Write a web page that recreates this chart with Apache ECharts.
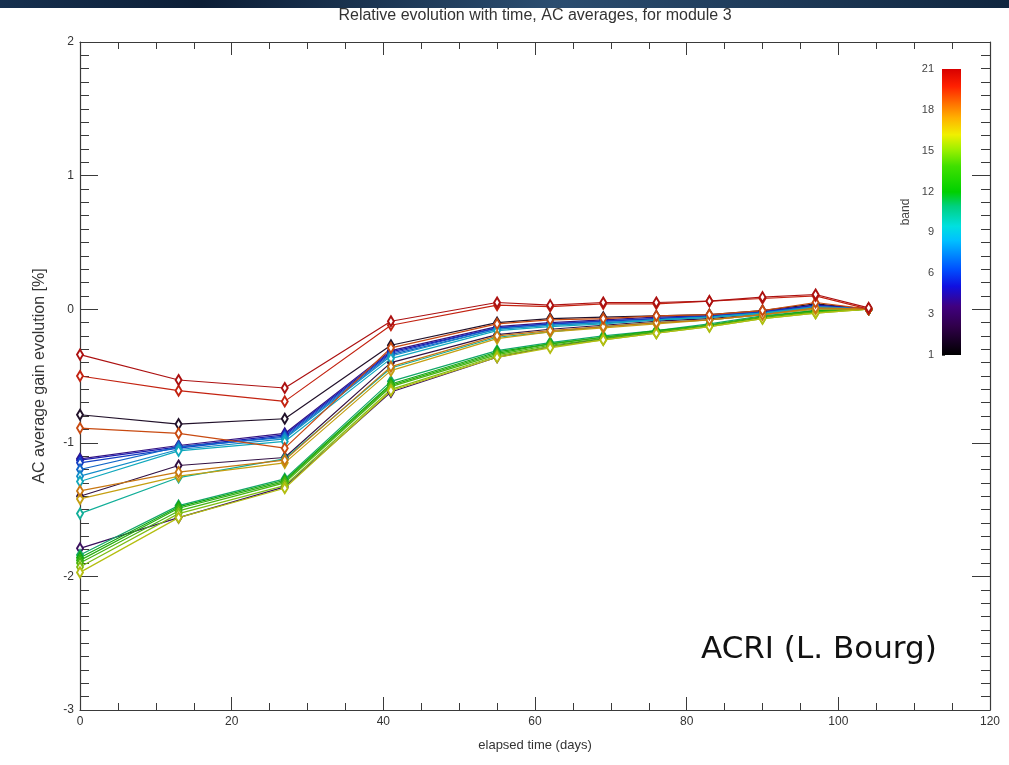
<!DOCTYPE html>
<html>
<head>
<meta charset="utf-8">
<script src="https://cdn.jsdelivr.net/npm/echarts@6/dist/echarts.min.js"></script>
<style>
	html, body { margin: 0; padding: 0; background: #fff; }
	#chart { width: 1009px; height: 765px; }
</style>
</head>
<body>
<div id="chart"></div>
<script>
// elapsed time of each measurement (days)
let days = [0, 13, 27, 41, 55, 62, 69, 76, 83, 90, 97, 104]

// AC average gain evolution [%], one array per band
let band1 = [-0.79, -0.86, -0.82, -0.27, -0.10, -0.07, -0.06, -0.05, -0.04, -0.01, 0.04, 0.00]
let band2 = [-1.40, -1.17, -1.11, -0.40, -0.19, -0.15, -0.12, -0.09, -0.07, -0.04, 0.01, 0.00]
let band3 = [-1.79, -1.56, -1.33, -0.62, -0.36, -0.28, -0.22, -0.17, -0.12, -0.06, -0.01, 0.00]
let band4 = [-1.12, -1.02, -0.93, -0.31, -0.13, -0.10, -0.08, -0.06, -0.05, -0.02, 0.03, 0.00]
let band5 = [-1.13, -1.03, -0.94, -0.32, -0.14, -0.11, -0.09, -0.07, -0.05, -0.02, 0.03, 0.00]
let band6 = [-1.15, -1.04, -0.95, -0.33, -0.14, -0.11, -0.09, -0.07, -0.05, -0.02, 0.02, 0.00]
let band7 = [-1.20, -1.03, -0.96, -0.34, -0.15, -0.12, -0.10, -0.08, -0.06, -0.03, 0.02, 0.00]
let band8 = [-1.25, -1.05, -0.97, -0.35, -0.15, -0.12, -0.10, -0.08, -0.06, -0.03, 0.02, 0.00]
let band9 = [-1.29, -1.06, -0.99, -0.37, -0.16, -0.13, -0.11, -0.08, -0.06, -0.03, 0.01, 0.00]
let band10 = [-1.53, -1.26, -1.12, -0.44, -0.21, -0.17, -0.13, -0.10, -0.08, -0.04, 0.00, 0.00]
let band11 = [-1.84, -1.47, -1.27, -0.54, -0.31, -0.25, -0.20, -0.16, -0.11, -0.05, -0.01, 0.00]
let band12 = [-1.86, -1.48, -1.28, -0.56, -0.32, -0.26, -0.21, -0.16, -0.12, -0.06, -0.01, 0.00]
let band13 = [-1.88, -1.49, -1.29, -0.57, -0.33, -0.26, -0.21, -0.17, -0.12, -0.06, -0.02, 0.00]
let band14 = [-1.90, -1.51, -1.30, -0.58, -0.34, -0.27, -0.22, -0.17, -0.12, -0.06, -0.02, 0.00]
let band15 = [-1.93, -1.53, -1.32, -0.60, -0.35, -0.28, -0.23, -0.18, -0.13, -0.07, -0.03, 0.00]
let band16 = [-1.97, -1.56, -1.34, -0.61, -0.36, -0.29, -0.23, -0.18, -0.13, -0.07, -0.03, 0.00]
let band17 = [-1.42, -1.25, -1.15, -0.46, -0.22, -0.17, -0.14, -0.11, -0.08, -0.04, 0.00, 0.00]
let band18 = [-1.36, -1.22, -1.13, -0.43, -0.20, -0.16, -0.13, -0.10, -0.08, -0.04, 0.01, 0.00]
let band19 = [-0.89, -0.93, -1.04, -0.29, -0.11, -0.08, -0.07, -0.05, -0.04, -0.01, 0.05, 0.00]
let band20 = [-0.50, -0.61, -0.69, -0.12, 0.03, 0.02, 0.04, 0.04, 0.06, 0.08, 0.10, 0.00]
let band21 = [-0.34, -0.53, -0.59, -0.09, 0.05, 0.03, 0.05, 0.05, 0.06, 0.09, 0.11, 0.01]

let bands = [band1, band2, band3, band4, band5, band6, band7, band8, band9, band10, band11,
	band12, band13, band14, band15, band16, band17, band18, band19, band20, band21]

// colour bar ticks
let bandTicks = [1, 3, 6, 9, 12, 15, 18, 21]

// rainbow + black colour table
let stops = [
	[0.00, [0, 0, 0]],
	[0.10, [48, 0, 74]],
	[0.17, [64, 0, 128]],
	[0.24, [16, 16, 224]],
	[0.30, [0, 80, 255]],
	[0.40, [0, 192, 255]],
	[0.45, [0, 224, 224]],
	[0.52, [0, 208, 128]],
	[0.57, [0, 208, 0]],
	[0.66, [64, 224, 0]],
	[0.72, [160, 240, 0]],
	[0.77, [240, 240, 0]],
	[0.83, [255, 176, 0]],
	[0.88, [255, 112, 0]],
	[0.94, [255, 32, 0]],
	[1.00, [216, 0, 0]]
]

function rgb(c) {
	return 'rgb(' + c.map(Math.round).join(',') + ')'
}

function tableColor(t) {
	for (let i = 1; i < stops.length; i++) {
		if (t <= stops[i][0]) {
			let a = stops[i - 1], b = stops[i]
			let f = (t - a[0]) / (b[0] - a[0])
			return a[1].map((v, k) => v + (b[1][k] - v) * f)
		}
	}
	return stops[stops.length - 1][1]
}

// lines in the plot look duller than the bar, mix a bit of grey in
function lineColor(t) {
	let c = tableColor(t)
	return rgb(c.map(v => v * 0.72 + 60 * 0.28))
}

let font = "'Liberation Sans Narrow', 'Liberation Sans', sans-serif"
let axisColor = '#3a3a3a'

let chart = echarts.init(document.getElementById('chart'))

let series = []
for (let b = 0; b < bands.length; b++) {
	let col = lineColor((b + 1) / 21)
	series.push({
		name: 'band ' + (b + 1),
		type: 'line',
		xAxisIndex: 0,
		yAxisIndex: 0,
		data: days.map((d, i) => [d, bands[b][i]]),
		symbol: 'emptyDiamond',
		symbolSize: [6, 10],
		lineStyle: { color: col, width: 1.2 },
		itemStyle: { color: col, borderColor: col, borderWidth: 1 },
		silent: true,
		animation: false
	})
}

// colour bar drawn as one bar on its own grid
series.push({
	type: 'bar',
	xAxisIndex: 2,
	yAxisIndex: 2,
	data: [21],
	barWidth: '100%',
	silent: true,
	animation: false,
	itemStyle: {
		color: new echarts.graphic.LinearGradient(0, 1, 0, 0,
			stops.map(s => ({ offset: s[0], color: rgb(s[1]) })))
	}
})

function frameAxis(pos, show) {
	return {
		axisLine: { show: true, onZero: false, lineStyle: { color: axisColor, width: 1.2 } },
		splitLine: { show: false },
		axisLabel: { show: show, color: '#333', fontFamily: font, fontSize: 12, margin: 6 },
		position: pos
	}
}

let option = {
	backgroundColor: '#fff',
	animation: false,
	grid: [
		{ left: 80, right: 19, top: 42, bottom: 55 },
		{ left: 942, top: 69, width: 19, height: 286 }
	],
	xAxis: [
		Object.assign(frameAxis('bottom', true), {
			type: 'value', gridIndex: 0, min: 0, max: 120, interval: 20,
			axisTick: { inside: true, length: 13, lineStyle: { color: axisColor } },
			minorTick: { show: true, splitNumber: 4, length: 7, lineStyle: { color: axisColor } },
			name: 'elapsed time (days)', nameLocation: 'middle', nameGap: 29,
			nameTextStyle: { color: '#333', fontFamily: font, fontSize: 13 }
		}),
		Object.assign(frameAxis('top', false), {
			type: 'value', gridIndex: 0, min: 0, max: 120, interval: 20,
			axisTick: { inside: true, length: 13, lineStyle: { color: axisColor } },
			minorTick: { show: true, splitNumber: 4, length: 7, lineStyle: { color: axisColor } }
		}),
		{
			type: 'category', gridIndex: 1, data: [''],
			axisLine: { show: false }, axisTick: { show: false }, axisLabel: { show: false }
		}
	],
	yAxis: [
		Object.assign(frameAxis('left', true), {
			type: 'value', gridIndex: 0, min: -3, max: 2, interval: 1,
			axisTick: { inside: true, length: 18, lineStyle: { color: axisColor } },
			minorTick: { show: true, splitNumber: 10, length: 9, lineStyle: { color: axisColor } },
			name: 'AC average gain evolution [%]', nameLocation: 'middle', nameGap: 32,
			nameTextStyle: { color: '#333', fontFamily: font, fontSize: 16 }
		}),
		Object.assign(frameAxis('right', false), {
			type: 'value', gridIndex: 0, min: -3, max: 2, interval: 1,
			axisTick: { inside: true, length: 18, lineStyle: { color: axisColor } },
			minorTick: { show: true, splitNumber: 10, length: 9, lineStyle: { color: axisColor } }
		}),
		{
			type: 'value', gridIndex: 1, min: 0, max: 21, interval: 3,
			axisLine: { show: false },
			splitLine: { show: false },
			axisTick: { show: true, inside: true, length: 3, lineStyle: { color: '#555' } },
			axisLabel: {
				color: '#444', fontFamily: font, fontSize: 11, margin: 8,
				formatter: v => bandTicks.indexOf(v) >= 0 ? v : (v == 0 ? '1' : '')
			},
			name: 'band', nameLocation: 'middle', nameGap: 30,
			nameTextStyle: { color: '#444', fontFamily: font, fontSize: 12 }
		}
	],
	graphic: [
		{
			type: 'rect',
			shape: { x: 0, y: 0, width: 1009, height: 8 },
			style: {
				fill: new echarts.graphic.LinearGradient(0, 0, 1, 0, [
					{ offset: 0, color: '#16304f' },
					{ offset: 0.2, color: '#0c1e36' },
					{ offset: 0.55, color: '#2b4d70' },
					{ offset: 1, color: '#10263f' }
				])
			},
			silent: true
		},
		{
			type: 'text',
			x: 535, y: 16,
			style: {
				text: 'Relative evolution with time, AC averages, for module 3',
				fill: '#333', font: '16px ' + font,
				align: 'center', verticalAlign: 'middle'
			}
		},
		{
			type: 'text',
			x: 701, y: 650,
			style: {
				text: 'ACRI (L. Bourg)',
				fill: '#111', font: '31px "DejaVu Sans", Verdana, sans-serif',
				align: 'left', verticalAlign: 'middle'
			}
		}
	],
	series: series
}

chart.setOption(option)
</script>
</body>
</html>
